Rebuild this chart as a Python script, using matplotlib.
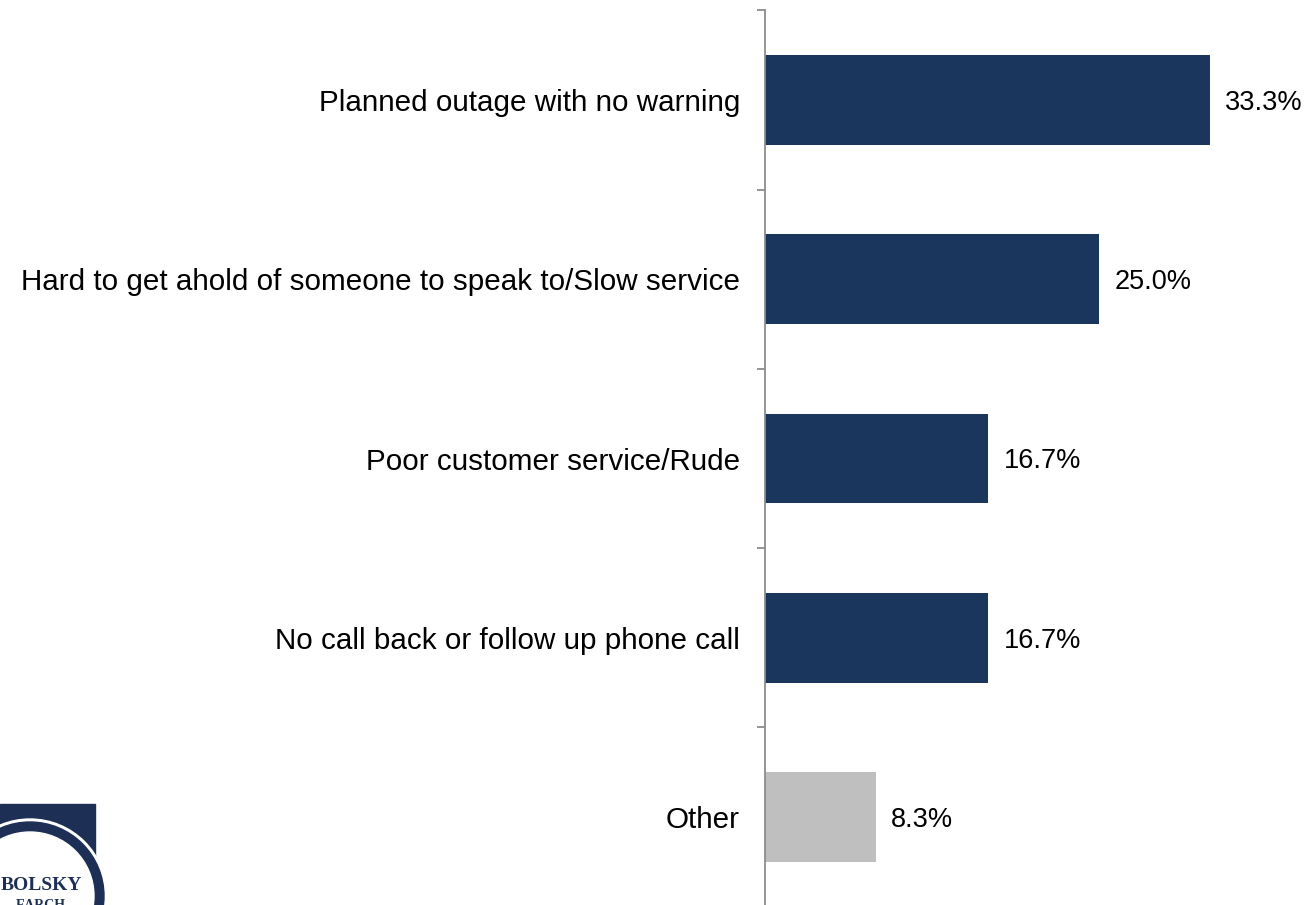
import numpy as np
import matplotlib
matplotlib.use("Agg")
import matplotlib.pyplot as plt
from matplotlib.patches import Rectangle, Circle

plt.rcParams['font.family'] = ['Liberation Sans', 'DejaVu Sans']

categories = [
    "Planned outage with no warning",
    "Hard to get ahold of someone to speak to/Slow service",
    "Poor customer service/Rude",
    "No call back or follow up phone call",
    "Other",
]
values = [33.3, 25.0, 16.7, 16.7, 8.3]
value_labels = ["33.3%", "25.0%", "16.7%", "16.7%", "8.3%"]

NAVY = "#1a365d"
GREY = "#bfbfbf"
colors = [NAVY, NAVY, NAVY, NAVY, GREY]

W, H = 1307, 905
fig = plt.figure(figsize=(W / 100, H / 100), dpi=100)

# main axes placed in pixel terms (axis line at x=765)
left_px, right_px = 765, 1307
top_px, bot_px = 10.4, 906.6
ax = fig.add_axes([left_px / W, (H - bot_px) / H,
                   (right_px - left_px) / W, (bot_px - top_px) / H])

y = np.arange(len(categories))
ax.barh(y, values, height=0.5, color=colors)
ax.set_ylim(len(categories) - 0.5, -0.5)
ax.set_xlim(0, (right_px - left_px) / 13.36)

for yi, v, lab in zip(y, values, value_labels):
    ax.annotate(lab, (v, yi), xytext=(11, -2), textcoords="offset points",
                va="center", ha="left", fontsize=19.5, color="black")

for s in ["top", "right", "bottom"]:
    ax.spines[s].set_visible(False)
ax.spines["left"].set_color("#8c8c8c")
ax.spines["left"].set_linewidth(1.3)
ax.set_xticks([])
ax.set_yticks(y)
ax.set_yticklabels(categories, fontsize=21.3, color="black")
ax.tick_params(axis="y", which="major", length=0, pad=18)
ax.set_yticks(np.arange(-0.5, len(categories), 1.0), minor=True)
ax.tick_params(axis="y", which="minor", length=6, width=1.3, color="#8c8c8c")

# logo fragment in the bottom-left corner (pixel coordinates)
lax = fig.add_axes([0, 0, 1, 1], zorder=-1)
lax.set_xlim(0, W)
lax.set_ylim(H, 0)
lax.axis("off")
lax.add_patch(Rectangle((0, 804), 95, 110, color="#1e2f55"))
lax.add_patch(Circle((30, 896), 77, color="white"))
lax.add_patch(Circle((30, 896), 74, color="#1e2f55"))
lax.add_patch(Circle((30, 896), 64, color="white"))
lax.text(82, 885, "BOLSKY", ha="right", va="center", fontsize=14,
         family="Liberation Serif", fontweight="bold", color="#1e2f55")
lax.text(66, 899, "EARCH", ha="right", va="top", fontsize=10,
         family="Liberation Serif", fontweight="bold", color="#1e2f55")

fig.savefig("out.png", dpi=100)
